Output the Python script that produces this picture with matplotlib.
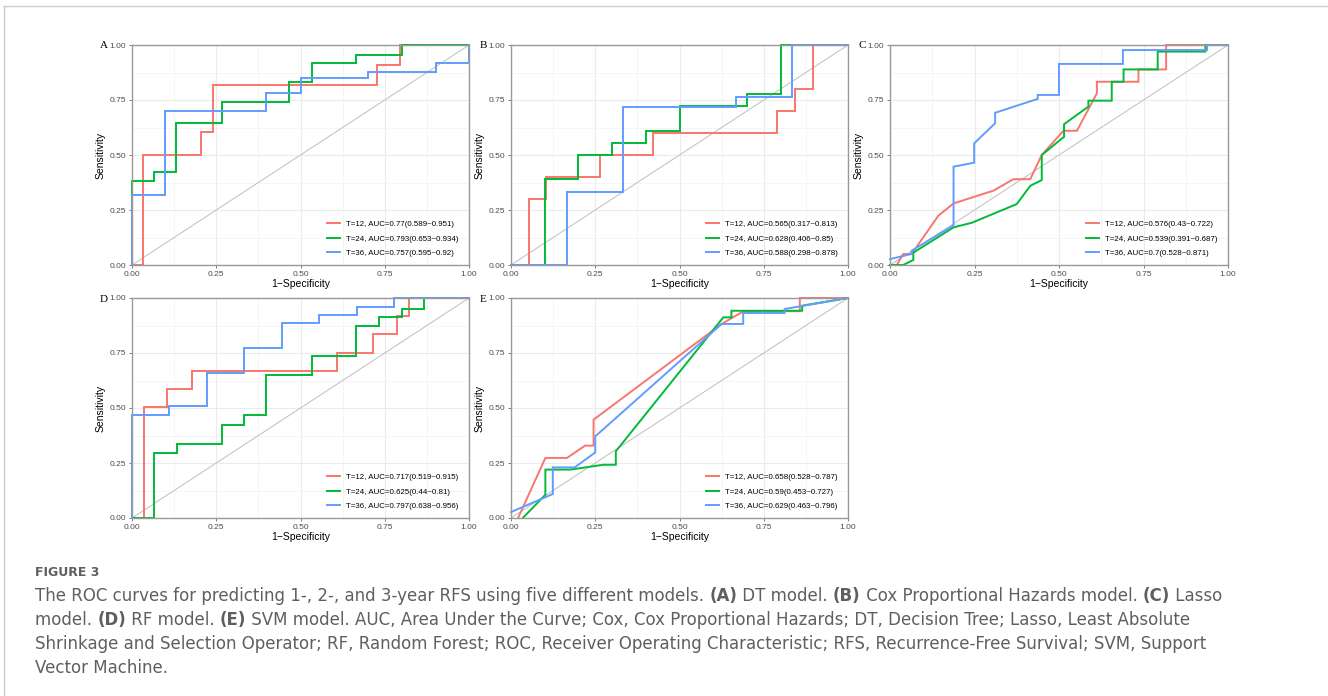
import numpy as np
import matplotlib.pyplot as plt
from matplotlib.lines import Line2D

# Data: (1-specificity, sensitivity) vertices of each ROC curve
a_fpr12 = [0, 0.033, 0.033, 0.206, 0.206, 0.24, 0.24, 0.726, 0.726, 0.795, 0.795, 1]
a_tpr12 = [0, 0, 0.5, 0.5, 0.606, 0.606, 0.818, 0.818, 0.909, 0.909, 1, 1]
a_fpr24 = [0, 0, 0.064, 0.064, 0.132, 0.132, 0.267, 0.267, 0.466, 0.466, 0.534, 0.534, 0.666, 0.666, 0.802, 0.802, 1]
a_tpr24 = [0, 0.382, 0.382, 0.424, 0.424, 0.647, 0.647, 0.741, 0.741, 0.833, 0.833, 0.917, 0.917, 0.955, 0.955, 1, 1]
a_fpr36 = [0, 0, 0.099, 0.099, 0.399, 0.399, 0.5, 0.5, 0.701, 0.701, 0.901, 0.901, 1, 1]
a_tpr36 = [0, 0.318, 0.318, 0.70, 0.70, 0.78, 0.78, 0.848, 0.848, 0.879, 0.879, 0.92, 0.92, 1]

b_fpr12 = [0, 0.052, 0.052, 0.105, 0.105, 0.265, 0.265, 0.422, 0.422, 0.79, 0.79, 0.842, 0.842, 0.896, 0.896, 1]
b_tpr12 = [0, 0, 0.30, 0.30, 0.40, 0.40, 0.50, 0.50, 0.60, 0.60, 0.70, 0.70, 0.80, 0.80, 1, 1]
b_fpr24 = [0, 0.1, 0.1, 0.2, 0.2, 0.3, 0.3, 0.4, 0.4, 0.5, 0.5, 0.7, 0.7, 0.8, 0.8, 1]
b_tpr24 = [0, 0, 0.389, 0.389, 0.5, 0.5, 0.556, 0.556, 0.611, 0.611, 0.725, 0.725, 0.778, 0.778, 1, 1]
b_fpr36 = [0, 0.167, 0.167, 0.333, 0.333, 0.667, 0.667, 0.833, 0.833, 1]
b_tpr36 = [0, 0, 0.333, 0.333, 0.72, 0.72, 0.762, 0.762, 1, 1]

c_fpr12 = [0, 0.02, 0.039, 0.064, 0.143, 0.188, 0.306, 0.365, 0.415, 0.449, 0.513, 0.553, 0.612, 0.612, 0.735, 0.735, 0.817, 0.817, 1]
c_tpr12 = [0, 0, 0.05, 0.05, 0.224, 0.28, 0.338, 0.39, 0.39, 0.5, 0.61, 0.61, 0.78, 0.833, 0.833, 0.889, 0.889, 1, 1]
c_fpr24 = [0, 0.039, 0.069, 0.069, 0.188, 0.242, 0.375, 0.415, 0.449, 0.449, 0.515, 0.515, 0.587, 0.587, 0.656, 0.656, 0.691, 0.691, 0.792, 0.792, 0.933, 0.933, 1]
c_tpr24 = [0, 0, 0.023, 0.056, 0.171, 0.192, 0.277, 0.36, 0.386, 0.5, 0.583, 0.64, 0.72, 0.747, 0.747, 0.833, 0.833, 0.889, 0.889, 0.97, 0.97, 1, 1]
c_fpr36 = [0, 0.064, 0.064, 0.188, 0.188, 0.249, 0.249, 0.311, 0.311, 0.437, 0.437, 0.5, 0.5, 0.689, 0.689, 0.938, 0.938, 1]
c_tpr36 = [0.027, 0.05, 0.065, 0.18, 0.447, 0.465, 0.553, 0.644, 0.692, 0.755, 0.773, 0.773, 0.914, 0.914, 0.977, 0.977, 1, 1]

d_fpr12 = [0, 0.035, 0.035, 0.105, 0.105, 0.177, 0.177, 0.607, 0.607, 0.714, 0.714, 0.787, 0.787, 0.823, 0.823, 1]
d_tpr12 = [0, 0, 0.505, 0.505, 0.588, 0.588, 0.67, 0.67, 0.752, 0.752, 0.836, 0.836, 0.917, 0.917, 1, 1]
d_fpr24 = [0, 0.065, 0.065, 0.134, 0.134, 0.267, 0.267, 0.333, 0.333, 0.399, 0.399, 0.533, 0.533, 0.666, 0.666, 0.734, 0.734, 0.802, 0.802, 0.867, 0.867, 1]
d_tpr24 = [0, 0, 0.295, 0.295, 0.338, 0.338, 0.424, 0.424, 0.47, 0.47, 0.652, 0.652, 0.738, 0.738, 0.871, 0.871, 0.912, 0.912, 0.952, 0.952, 1, 1]
d_fpr36 = [0, 0, 0.111, 0.111, 0.222, 0.222, 0.333, 0.333, 0.444, 0.444, 0.556, 0.556, 0.667, 0.667, 0.778, 0.778, 1]
d_tpr36 = [0, 0.466, 0.466, 0.508, 0.508, 0.66, 0.66, 0.775, 0.775, 0.886, 0.886, 0.925, 0.925, 0.96, 0.96, 1, 1]

e_fpr12 = [0.021, 0.102, 0.166, 0.22, 0.245, 0.245, 0.625, 0.69, 0.857, 0.857, 1]
e_tpr12 = [0, 0.273, 0.273, 0.329, 0.329, 0.447, 0.882, 0.94, 0.94, 1, 1]
e_fpr24 = [0.035, 0.102, 0.102, 0.176, 0.274, 0.311, 0.311, 0.63, 0.654, 0.654, 0.864, 0.864, 1]
e_tpr24 = [0, 0.106, 0.22, 0.22, 0.242, 0.242, 0.303, 0.912, 0.912, 0.942, 0.942, 0.965, 1]
e_fpr36 = [0, 0.124, 0.124, 0.189, 0.25, 0.25, 0.625, 0.689, 0.689, 0.812, 0.812, 1]
e_tpr36 = [0.027, 0.109, 0.23, 0.23, 0.298, 0.371, 0.882, 0.882, 0.932, 0.932, 0.95, 1]

a_labels = ["T=12, AUC=0.77(0.589~0.951)", "T=24, AUC=0.793(0.653~0.934)", "T=36, AUC=0.757(0.595~0.92)"]
b_labels = ["T=12, AUC=0.565(0.317~0.813)", "T=24, AUC=0.628(0.406~0.85)", "T=36, AUC=0.588(0.298~0.878)"]
c_labels = ["T=12, AUC=0.576(0.43~0.722)", "T=24, AUC=0.539(0.391~0.687)", "T=36, AUC=0.7(0.528~0.871)"]
d_labels = ["T=12, AUC=0.717(0.519~0.915)", "T=24, AUC=0.625(0.44~0.81)", "T=36, AUC=0.797(0.638~0.956)"]
e_labels = ["T=12, AUC=0.658(0.528~0.787)", "T=24, AUC=0.59(0.453~0.727)", "T=36, AUC=0.629(0.463~0.796)"]

colors = ["#F8766D", "#00BA38", "#619CFF"]
ticks = [0, 0.25, 0.5, 0.75, 1.0]
tick_labels = ["0.00", "0.25", "0.50", "0.75", "1.00"]

W, H = 1328, 696
fig = plt.figure(figsize=(W / 100, H / 100), dpi=100)

def px_axes(left, top, right, bottom):
    return fig.add_axes([left / W, 1 - bottom / H, (right - left) / W, (bottom - top) / H])

panels = [
    ("A", (132, 45, 469, 265), [(a_fpr12, a_tpr12), (a_fpr24, a_tpr24), (a_fpr36, a_tpr36)], a_labels),
    ("B", (511, 45, 848, 265), [(b_fpr12, b_tpr12), (b_fpr24, b_tpr24), (b_fpr36, b_tpr36)], b_labels),
    ("C", (890, 45, 1228, 265), [(c_fpr12, c_tpr12), (c_fpr24, c_tpr24), (c_fpr36, c_tpr36)], c_labels),
    ("D", (132, 298, 469, 518), [(d_fpr12, d_tpr12), (d_fpr24, d_tpr24), (d_fpr36, d_tpr36)], d_labels),
    ("E", (511, 298, 848, 518), [(e_fpr12, e_tpr12), (e_fpr24, e_tpr24), (e_fpr36, e_tpr36)], e_labels),
]

sans = "Liberation Sans"
for letter, box, curves, labels in panels:
    ax = px_axes(*box)
    ax.set_xlim(0, 1)
    ax.set_ylim(0, 1)
    ax.set_xticks(ticks)
    ax.set_yticks(ticks)
    ax.set_xticklabels(tick_labels, fontsize=6, family=sans, color="#4d4d4d")
    ax.set_yticklabels(tick_labels, fontsize=6, family=sans, color="#4d4d4d")
    ax.set_xticks(np.arange(0.125, 1, 0.25), minor=True)
    ax.set_yticks(np.arange(0.125, 1, 0.25), minor=True)
    ax.grid(which="major", color="#ebebeb", lw=0.8)
    ax.grid(which="minor", color="#f4f4f4", lw=0.6)
    ax.set_axisbelow(True)
    ax.tick_params(which="major", length=2.5, width=0.6, color="#666666", pad=1.5)
    ax.tick_params(which="minor", length=0)
    for s in ax.spines.values():
        s.set_color("#999999")
        s.set_linewidth(1.0)
    ax.plot([0, 1], [0, 1], color="#bebebe", lw=0.7)
    for (fx, ty), col, lab in zip(curves, colors, labels):
        ax.plot(fx, ty, color=col, lw=1.4, label=lab, clip_on=False, solid_joinstyle="miter")
    ax.legend(loc="lower right", bbox_to_anchor=(0.985, 0.01), frameon=False,
              prop={"family": sans, "size": 5.7},
              handlelength=1.7, handletextpad=0.7, labelspacing=0.9, borderaxespad=0.3)
    ax.set_xlabel("1\u2212Specificity", fontsize=7.5, family=sans, labelpad=1)
    ax.set_ylabel("Sensitivity", fontsize=7.5, family=sans, labelpad=3)
    left, top = box[0], box[1]
    fig.text((left - 28) / W, 1 - (top + 1) / H, letter, family="Liberation Serif",
             fontsize=8, ha="center", va="center")

# outer frame of the figure box
fig.add_artist(Line2D([4 / W, 4 / W], [0, 1 - 6 / H], transform=fig.transFigure, color="#cccccc", lw=1))
fig.add_artist(Line2D([4 / W, 1], [1 - 6 / H, 1 - 6 / H], transform=fig.transFigure, color="#cccccc", lw=1))

# caption
cap_font = "DejaVu Sans"
cap_color = "#5f5f5f"
cap_size = 12.0
fig.text(35 / W, 1 - 576 / H, "FIGURE 3", family=cap_font, fontsize=9, fontweight="bold",
         color=cap_color, ha="left", va="baseline")

caption_lines = [
    [("The ROC curves for predicting 1-, 2-, and 3-year RFS using five different models. ", False), ("(A)", True),
     (" DT model. ", False), ("(B)", True), (" Cox Proportional Hazards model. ", False), ("(C)", True), (" Lasso", False)],
    [("model. ", False), ("(D)", True), (" RF model. ", False), ("(E)", True),
     (" SVM model. AUC, Area Under the Curve; Cox, Cox Proportional Hazards; DT, Decision Tree; Lasso, Least Absolute", False)],
    [("Shrinkage and Selection Operator; RF, Random Forest; ROC, Receiver Operating Characteristic; RFS, Recurrence-Free Survival; SVM, Support", False)],
    [("Vector Machine.", False)],
]
baselines = [601, 625, 649, 673]
renderer = fig.canvas.get_renderer()
for segs, base in zip(caption_lines, baselines):
    x = 35.0
    for txt, bold in segs:
        t = fig.text(x / W, 1 - base / H, txt, family=cap_font, fontsize=cap_size, color=cap_color,
                     fontweight="bold" if bold else "normal", ha="left", va="baseline")
        x += t.get_window_extent(renderer).width

fig.savefig("out.png", dpi=100)
